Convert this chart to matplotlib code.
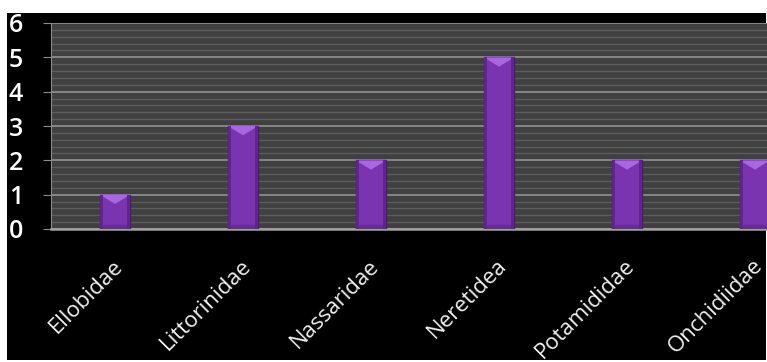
import matplotlib.pyplot as plt
from matplotlib.patches import Rectangle, Polygon
from matplotlib.transforms import ScaledTranslation

# data
families = ["Ellobidae", "Littorinidae", "Nassaridae", "Neretidea", "Potamididae", "Onchidiidae"]
counts = [1, 3, 2, 5, 2, 2]

plt.rcParams['font.family'] = ['Open Sans', 'DejaVu Sans']

fig = plt.figure(figsize=(7.67, 3.62), dpi=100, facecolor='white')
# black backdrop of the chart area
fig.patches.append(Rectangle((7 / 767, 2 / 362), 759 / 767, 347 / 362,
                             transform=fig.transFigure, facecolor='black',
                             edgecolor='none', zorder=-1))

ax = fig.add_axes([51 / 767, 133 / 362, 768 / 767, 206 / 362])
ax.set_zorder(2)
ax.set_facecolor('#404040')

x = list(range(len(families)))
w = 0.24
bars = ax.bar(x, counts, width=w, color='#7a34b0', edgecolor='#4b1c72',
              linewidth=1.0, zorder=3)

# bevel highlights on the bars
bevel = 0.27
for b in bars:
    x0, h = b.get_x(), b.get_height()
    x1 = x0 + b.get_width()
    xc = (x0 + x1) / 2
    ax.add_patch(Polygon([(x0, h), (x1, h), (xc, h - bevel)], closed=True,
                         facecolor='#a866e0', edgecolor='none', zorder=4))
    ax.add_patch(Polygon([(x0, 0), (x1, 0), (x1 - 0.03, 0.12), (x0 + 0.03, 0.12)],
                         closed=True, facecolor='#6a2a9c', edgecolor='none', zorder=4))
    ax.add_patch(Rectangle((x0, 0), 0.025, h, facecolor='#5e2490',
                           edgecolor='none', zorder=4))
    ax.add_patch(Rectangle((x1 - 0.025, 0), 0.025, h, facecolor='#5e2490',
                           edgecolor='none', zorder=4))

ax.set_xlim(-0.5, len(families) - 0.5)
ax.set_ylim(0, 6)
ax.set_yticks(range(0, 7))
ax.set_yticks([i / 5 for i in range(31)], minor=True)
ax.grid(which='major', axis='y', color='#8c8c8c', linewidth=1.3, zorder=1)
ax.grid(which='minor', axis='y', color='#5c5c5c', linewidth=1.0, zorder=0.5)
ax.set_axisbelow(True)

for s in ['top', 'right']:
    ax.spines[s].set_visible(False)
ax.spines['left'].set_color('#8c8c8c')
ax.spines['bottom'].set_color('#a0a0a0')
ax.spines['bottom'].set_linewidth(1.8)

ax.tick_params(axis='y', which='major', colors='#8c8c8c', length=6, pad=14,
               labelcolor='white', labelsize=18)
ax.tick_params(axis='y', which='minor', length=0)
for lbl in ax.get_yticklabels():
    lbl.set_fontweight('semibold')

ax.set_xticks(x)
ax.set_xticklabels(families, rotation=45, ha='right', rotation_mode='anchor',
                   color='#f0f0f0', fontsize=16)
ax.tick_params(axis='x', length=0, pad=19)
for lbl in ax.get_xticklabels():
    lbl.set_transform(lbl.get_transform() + ScaledTranslation(-2 / 72, 0, fig.dpi_scale_trans))

fig.savefig('out.png', dpi=100, facecolor='white')
